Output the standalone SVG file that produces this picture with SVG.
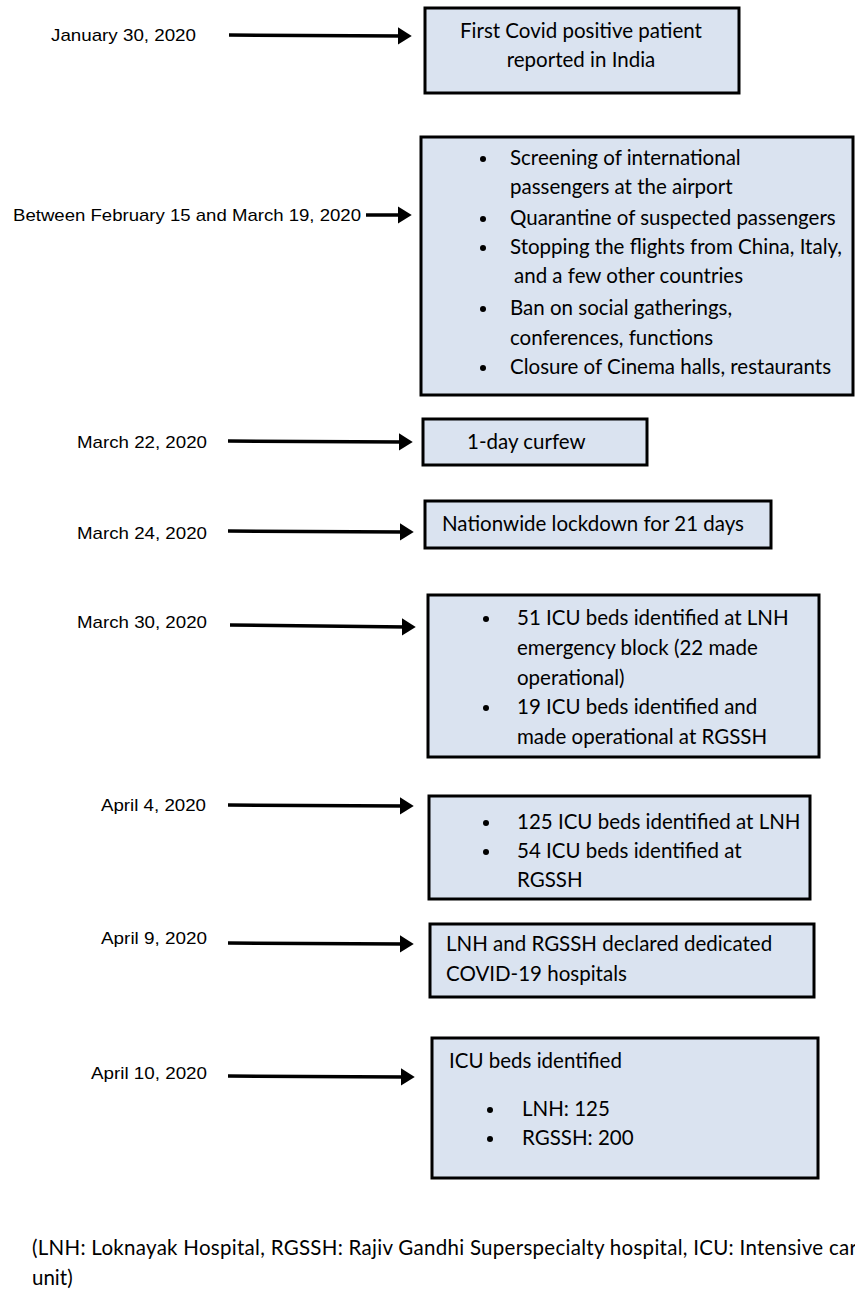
<svg xmlns="http://www.w3.org/2000/svg" width="855" height="1294" viewBox="0 0 855 1294">
<style>
.box{fill:#dae3f0;stroke:#000;stroke-width:3}
.t{font-family:Lato,"Liberation Sans",sans-serif;font-size:20.5px;fill:#000}
.d{font-family:"Liberation Sans",Arial,sans-serif;font-size:17px;fill:#000}
.c{stroke:#000;stroke-width:3.5;fill:none;marker-end:url(#ah)}
.b{fill:#000}
</style>
<defs>
<marker id="ah" markerWidth="5" markerHeight="5" refX="1.5" refY="2.5" orient="auto" markerUnits="strokeWidth">
<path d="M0,0 L4,2.5 L0,5 Z" fill="#000"/>
</marker>
</defs>
<rect width="855" height="1294" fill="#fff"/>
<g id="connectors">
<line class="c" x1="229" y1="35" x2="403" y2="36"/>
<line class="c" x1="366" y1="215" x2="403" y2="215"/>
<line class="c" x1="228" y1="441" x2="404" y2="442"/>
<line class="c" x1="228" y1="531" x2="405" y2="532"/>
<line class="c" x1="230" y1="625" x2="407" y2="627"/>
<line class="c" x1="228" y1="805" x2="405" y2="806"/>
<line class="c" x1="228" y1="943" x2="405" y2="944"/>
<line class="c" x1="228" y1="1076" x2="406" y2="1077"/>
</g>
<g id="labels">
<text class="d" x="51" y="41" textLength="145" lengthAdjust="spacingAndGlyphs">January 30, 2020</text>
<text class="d" x="13" y="221" textLength="348" lengthAdjust="spacingAndGlyphs">Between February 15 and March 19, 2020</text>
<text class="d" x="77" y="448" textLength="130" lengthAdjust="spacingAndGlyphs">March 22, 2020</text>
<text class="d" x="77" y="539" textLength="130" lengthAdjust="spacingAndGlyphs">March 24, 2020</text>
<text class="d" x="77" y="628" textLength="130" lengthAdjust="spacingAndGlyphs">March 30, 2020</text>
<text class="d" x="101" y="811" textLength="105" lengthAdjust="spacingAndGlyphs">April 4, 2020</text>
<text class="d" x="101" y="944" textLength="106" lengthAdjust="spacingAndGlyphs">April 9, 2020</text>
<text class="d" x="91" y="1079" textLength="116" lengthAdjust="spacingAndGlyphs">April 10, 2020</text>
</g>
<g id="n1">
<rect class="box" x="425" y="8" width="314" height="85"/>
<text class="t" x="581" y="38" text-anchor="middle">First Covid positive patient</text>
<text class="t" x="581" y="67" text-anchor="middle">reported in India</text>
</g>
<g id="n2">
<rect class="box" x="421" y="137" width="432" height="258"/>
<circle class="b" cx="483" cy="159" r="3"/>
<text class="t" x="510" y="165">Screening of international</text>
<text class="t" x="510" y="194">passengers at the airport</text>
<circle class="b" cx="483" cy="219" r="3"/>
<text class="t" x="510" y="225">Quarantine of suspected passengers</text>
<circle class="b" cx="483" cy="248" r="3"/>
<text class="t" x="510" y="254">Stopping the flights from China, Italy,</text>
<text class="t" x="514" y="283">and a few other countries</text>
<circle class="b" cx="483" cy="309" r="3"/>
<text class="t" x="510" y="315">Ban on social gatherings,</text>
<text class="t" x="510" y="345">conferences, functions</text>
<circle class="b" cx="483" cy="368" r="3"/>
<text class="t" x="510" y="374">Closure of Cinema halls, restaurants</text>
</g>
<g id="n3">
<rect class="box" x="423" y="419" width="224" height="46"/>
<text class="t" x="467" y="449">1-day curfew</text>
</g>
<g id="n4">
<rect class="box" x="425" y="501" width="346" height="47"/>
<text class="t" x="442" y="531">Nationwide lockdown for 21 days</text>
</g>
<g id="n5">
<rect class="box" x="428" y="595" width="391" height="162"/>
<circle class="b" cx="486" cy="619" r="3"/>
<text class="t" x="517" y="625">51 ICU beds identified at LNH</text>
<text class="t" x="517" y="655">emergency block (22 made</text>
<text class="t" x="517" y="685">operational)</text>
<circle class="b" cx="486" cy="708" r="3"/>
<text class="t" x="517" y="714">19 ICU beds identified and</text>
<text class="t" x="517" y="744">made operational at RGSSH</text>
</g>
<g id="n6">
<rect class="box" x="429" y="796" width="381" height="103"/>
<circle class="b" cx="486" cy="823" r="3"/>
<text class="t" x="517" y="829">125 ICU beds identified at LNH</text>
<circle class="b" cx="486" cy="852" r="3"/>
<text class="t" x="517" y="858">54 ICU beds identified at</text>
<text class="t" x="517" y="887">RGSSH</text>
</g>
<g id="n7">
<rect class="box" x="430" y="924" width="384" height="73"/>
<text class="t" x="446" y="951">LNH and RGSSH declared dedicated</text>
<text class="t" x="446" y="981">COVID-19 hospitals</text>
</g>
<g id="n8">
<rect class="box" x="432" y="1038" width="386" height="140"/>
<text class="t" x="449" y="1068">ICU beds identified</text>
<circle class="b" cx="490" cy="1110" r="3"/>
<text class="t" x="522" y="1116">LNH: 125</text>
<circle class="b" cx="490" cy="1139" r="3"/>
<text class="t" x="522" y="1145">RGSSH: 200</text>
</g>
<g id="footer">
<text class="t" x="32" y="1255" textLength="825" lengthAdjust="spacing">(LNH: Loknayak Hospital, RGSSH: Rajiv Gandhi Superspecialty hospital, ICU: Intensive car</text>
<text class="t" x="32" y="1285">unit)</text>
</g>
</svg>
